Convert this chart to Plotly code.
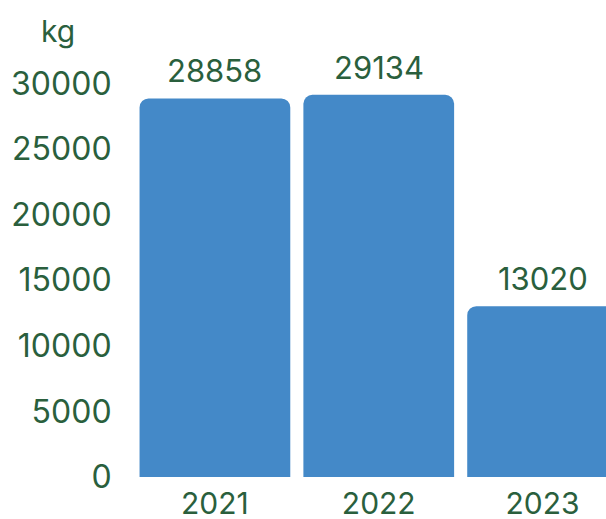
import plotly.graph_objects as go

years = ["2021", "2022", "2023"]
values = [28858, 29134, 13020]
y_ticks = [0, 5000, 10000, 15000, 20000, 25000, 30000]

text_color = "#2A5F3D"
bar_color = "#4489C8"
font_family = "Inter, Liberation Sans, Arial, sans-serif"

fig = go.Figure(
    go.Bar(
        x=years,
        y=values,
        marker=dict(color=bar_color, line=dict(width=0)),
        cliponaxis=False,
        hoverinfo="skip",
    )
)

for i, (yr, v) in enumerate(zip(years, values)):
    fig.add_annotation(
        x=i, y=v, xref="x", yref="y",
        text=str(v), showarrow=False,
        yanchor="bottom", yshift=7,
        font=dict(family=font_family, size=31, color=text_color),
    )

px_per_unit = 65.6 / 5000
top_margin = 20
bottom_px = 477
y_top = (bottom_px - top_margin) / px_per_unit

fig.update_layout(
    width=606,
    height=519,
    margin=dict(l=132.5, r=0, t=top_margin, b=519 - bottom_px),
    paper_bgcolor="white",
    plot_bgcolor="white",
    bargap=0.08,
    barcornerradius=9,
    showlegend=False,
    font=dict(family=font_family, size=31, color=text_color),
    xaxis=dict(
        type="category",
        range=[-0.5, 2.387],
        showgrid=False,
        showline=False,
        zeroline=False,
        automargin=False,
        ticks="outside",
        ticklen=0,
        tickcolor="rgba(0,0,0,0)",
        tickfont=dict(family=font_family, size=30, color=text_color),
    ),
    yaxis=dict(
        range=[0, y_top],
        tickvals=y_ticks,
        ticktext=[str(t) for t in y_ticks],
        showgrid=False,
        showline=False,
        zeroline=False,
        automargin=False,
        ticks="outside",
        ticklen=14,
        tickcolor="rgba(0,0,0,0)",
        tickfont=dict(family=font_family, size=32, color=text_color),
    ),
)

plot_w = 606 - 132.5
plot_h = 519 - top_margin - (519 - bottom_px)
fig.add_annotation(
    text="kg",
    x=(57 - 132.5) / plot_w,
    y=(519 - 31 - (519 - bottom_px)) / plot_h,
    xref="paper", yref="paper",
    xanchor="center", yanchor="middle",
    showarrow=False,
    font=dict(family=font_family, size=30, color=text_color),
)

fig.write_html(
    "out.html",
    config={"displayModeBar": False},
    post_script="document.body.style.margin='0';document.body.style.overflow='hidden';",
)
